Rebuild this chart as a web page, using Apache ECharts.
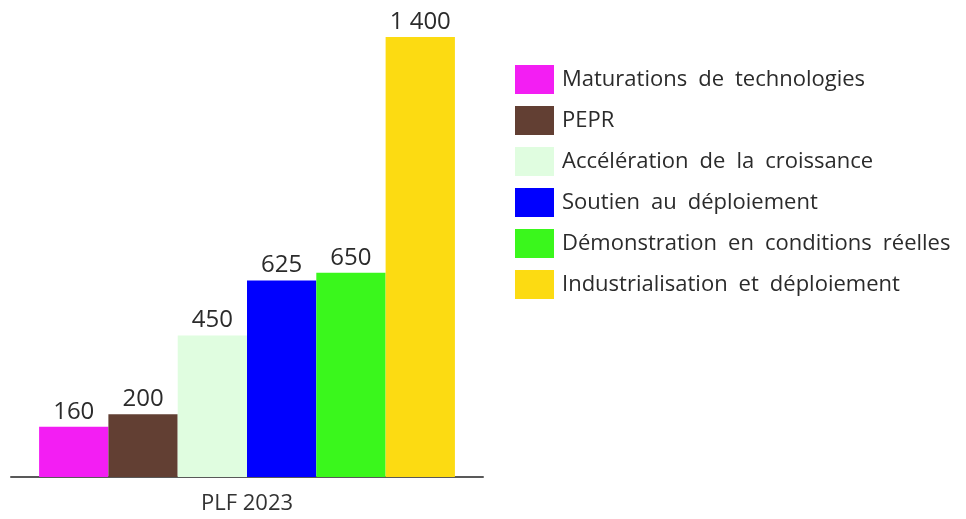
<!DOCTYPE html>
<html>
<head>
<meta charset="utf-8">
<script src="https://cdn.jsdelivr.net/npm/echarts@6/dist/echarts.min.js"></script>
<style>
  html, body { margin: 0; padding: 0; background: #fff; }
  #chart { width: 966px; height: 519px; }
</style>
</head>
<body>
<div id="chart"></div>
<script>
// données
const categories = ['PLF 2023'];
const seriesNames = [
    'Maturations de technologies',
    'PEPR',
    'Accélération de la croissance',
    'Soutien au déploiement',
    'Démonstration en conditions réelles',
    'Industrialisation et déploiement'
];
const seriesValues = [160, 200, 450, 625, 650, 1400];
const seriesColors = ['#f31ef3', '#623f33', '#e0fde0', '#0000ff', '#3af71c', '#fcdb12'];

const FONT = '"Open Sans", sans-serif';

// séparateur de milliers façon française
function fmt(v) {
    return String(v).replace(/\B(?=(\d{3})+(?!\d))/g, ' ');
}

const chart = echarts.init(document.getElementById('chart'));

const option = {
    animation: false,
    grid: { left: 11, right: 483, top: 37, bottom: 42, containLabel: false },
    legend: {
        orient: 'vertical',
        left: 510,
        top: 60,
        itemWidth: 39,
        itemHeight: 29,
        itemGap: 12,
        icon: 'rect',
        selectedMode: false,
        // espaces élargis entre les mots comme dans l'original
        formatter: name => name.replace(/ /g, '\u2002'),
        textStyle: {
            fontFamily: FONT,
            fontSize: 22,
            color: '#2b2b2b',
            padding: [3, 0, 0, 3]
        },
        data: seriesNames
    },
    xAxis: {
        type: 'category',
        data: categories,
        axisLine: { lineStyle: { color: '#595959', width: 2 } },
        axisTick: { show: false },
        axisLabel: {
            fontFamily: FONT,
            fontSize: 22,
            color: '#333',
            margin: 16
        }
    },
    yAxis: {
        type: 'value',
        min: 0,
        max: 1400,
        show: false,
        splitLine: { show: false }
    },
    series: seriesNames.map((name, i) => ({
        name: name,
        type: 'bar',
        data: [seriesValues[i]],
        barGap: 0,
        barCategoryGap: '11.9%',
        itemStyle: { color: seriesColors[i] },
        label: {
            show: true,
            position: 'top',
            distance: 3,
            formatter: p => fmt(p.value),
            fontFamily: FONT,
            fontSize: 24,
            color: '#2b2b2b'
        }
    }))
};

chart.setOption(option);
window.addEventListener('resize', () => chart.resize());
</script>
</body>
</html>
